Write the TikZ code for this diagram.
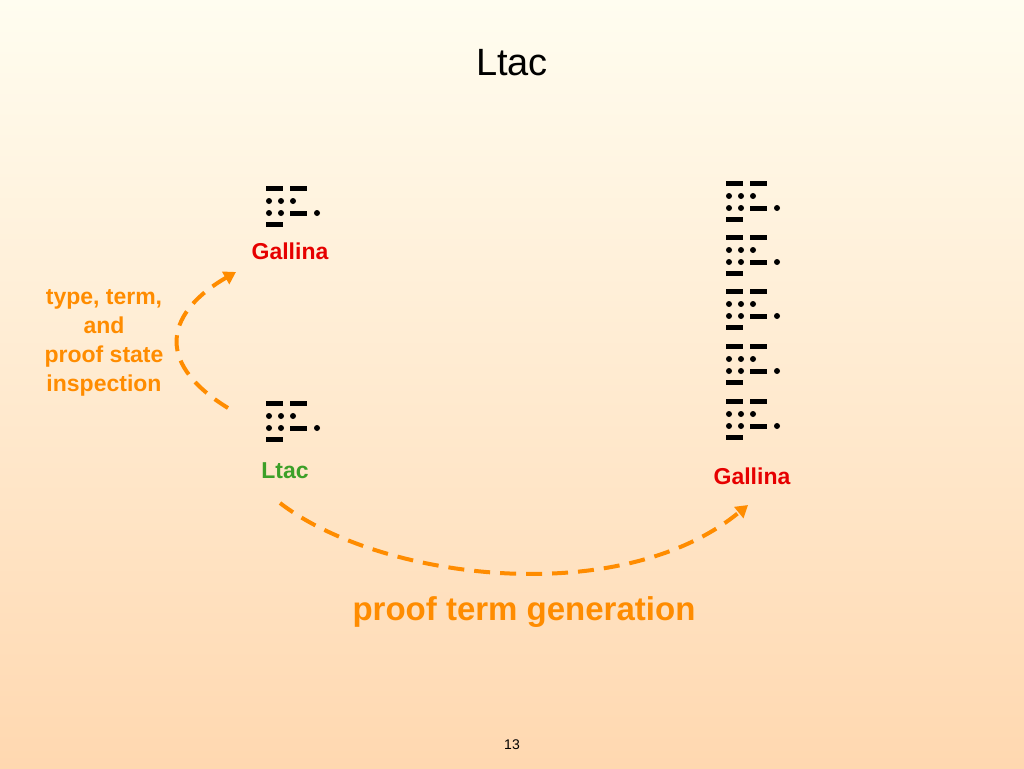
\documentclass[tikz,border=0pt]{standalone}
\usepackage{fontspec}
\setmainfont{Liberation Sans}
\usetikzlibrary{arrows.meta}
\begin{document}
\begin{tikzpicture}
		[x=1pt,y=-1pt,line cap=butt,
		%Styles
		dash bar/.style={line width=5pt},
		dotmark/.style={circle,fill,inner sep=0pt,minimum size=6pt},
		lang label/.style={font=\bfseries\fontsize{23}{26}\selectfont},
		flow/.style={line width=4pt,dash pattern=on 16pt off 10pt,-{Triangle[length=12pt,width=14pt,fill=flowcolor]}},
		glyph/.pic={
			\draw[dash bar] (0,0) -- (17,0) (24,0) -- (41,0) (24,25) -- (41,25) (0,36) -- (17,36);
			\foreach \px/\py in {3/13,15/13,27/13,3/25,15/25,51/25}
				\node[dotmark] at (\px,\py) {};
		}
		]
		
		%Colors
		\colorlet{flowcolor}{orange!90!yellow}
		\definecolor{gallinared}{RGB}{230,0,0}
		\definecolor{ltacgreen}{RGB}{60,160,40}
		
		%The graphic
		\shade[top color={rgb,255:red,255;green,253;blue,240},bottom color={rgb,255:red,255;green,216;blue,176}] (0,0) rectangle (1024,768);
		\useasboundingbox (0,0) rectangle (1024,768);
		\node (title) at (512,63) {\fontsize{38}{42}\selectfont Ltac};
		\pic at (266,188) {glyph};
		\pic at (266,403) {glyph};
		\foreach \gy in {183,237,291,346,401}
			\pic at (726,\gy) {glyph};
		\node[lang label,text=gallinared] (gallinaA) at (290,251) {Gallina};
		\node[lang label,text=ltacgreen] (ltac) at (285,471) {Ltac};
		\node[lang label,text=gallinared] (gallinaB) at (752,476) {Gallina};
		\node[text=flowcolor,align=center,font=\bfseries\fontsize{23}{29}\selectfont] (inspect) at (104,343) {type, term,\\and\\proof state\\inspection};
		\node[text=flowcolor,font=\bfseries\fontsize{33}{38}\selectfont] (generate) at (524,612) {proof term generation};
		\node (page) at (512,745) {\fontsize{14}{16}\selectfont 13};
		\coordinate (lstart) at (228,408);
		\coordinate (lend) at (236,272);
		\coordinate (bstart) at (280,503);
		\coordinate (bend) at (748,505);
		\draw[flow,draw=flowcolor] (lstart) .. controls (150,360) and (170,310) .. (lend);
		\draw[flow,draw=flowcolor] (bstart) .. controls (380,580) and (620,610) .. (bend);
	\end{tikzpicture}
\end{document}
